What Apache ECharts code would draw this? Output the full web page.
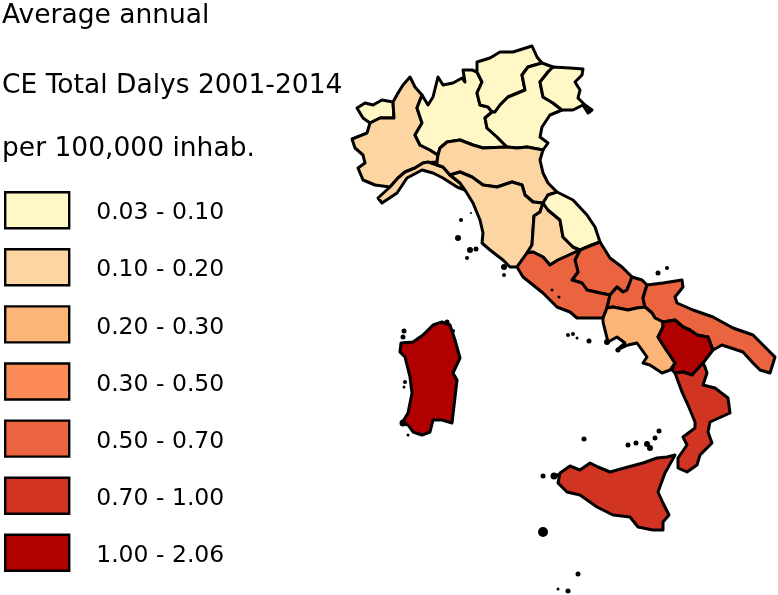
<!DOCTYPE html>
<html><head><meta charset="utf-8">
<style>html,body{margin:0;padding:0;background:#fff}#c{width:778px;height:595px}</style>
<script src="https://cdn.jsdelivr.net/npm/echarts@6/dist/echarts.min.js"></script>
</head><body><div id="c"></div>
<script>
const titleLines = ["Average annual", "CE Total Dalys 2001-2014", "per 100,000 inhab."];
const classLabels = ["0.03 - 0.10","0.10 - 0.20","0.20 - 0.30","0.30 - 0.50","0.50 - 0.70","0.70 - 1.00","1.00 - 2.06"];
const classBreaks = [0.03,0.10,0.20,0.30,0.50,0.70,1.00,2.06];
const classColors = ["#fff7c6","#fdd5a2","#fdb577","#fc8b59","#e9643f","#d13423","#b00000"];
const regionNames = ["Valle d'Aosta","Piemonte","Lombardia","Trentino-Alto Adige","Veneto","Friuli-Venezia Giulia","Liguria","Emilia-Romagna","Toscana","Umbria","Marche","Abruzzo","Lazio","Molise","Puglia","Campania","Basilicata","Calabria","Sicilia","Sardegna"];
const regionValues = [0.08,0.15,0.09,0.06,0.07,0.05,0.16,0.15,0.17,0.18,0.09,0.62,0.60,0.58,0.55,0.25,1.30,0.85,0.80,1.50];
// region outlines, in the map's own planar units
const outlines = [
"357,108 365,103 373,105 382,100 393,102 394,118 380,118 370,123 363,118",
"410,77 403,85 398,93 393,102 394,118 380,118 370,123 367,133 352,139 355,148 363,155 365,163 358,168 363,180 375,185 390,187 398,178 405,172 415,168 423,163 437,162 438,155 430,150 420,145 415,135 422,123 417,108 422,95 415,87",
"422,95 428,105 433,97 438,77 443,85 453,83 462,78 465,82 463,70 472,70 477,72 482,82 477,93 480,105 488,107 492,112 485,118 487,128 497,137 507,147 483,148 473,145 460,140 447,142 440,148 438,155 430,150 420,145 415,135 422,123 417,108",
"477,72 477,62 490,58 500,52 513,52 532,46 537,57 542,63 528,67 522,75 525,90 508,97 500,105 495,112 492,112 488,107 480,105 477,93 482,82",
"542,63 553,67 548,72 540,82 543,97 553,103 562,110 550,115 542,127 540,137 548,143 543,150 527,147 517,148 507,147 497,137 487,128 485,118 492,112 495,112 500,105 508,97 525,90 522,75 528,67",
"553,67 570,68 583,69 582,75 575,82 580,90 578,98 585,105 592,110 588,113 583,105 573,110 562,110 553,103 543,97 540,82 548,72",
"423,163 428,162 437,165 443,167 450,175 460,183 465,190 457,187 443,178 433,173 422,170 407,178 397,193 382,203 378,198 390,187 398,178 405,172 415,168",
"438,155 440,148 447,142 460,140 473,145 483,148 507,147 517,148 527,147 543,150 540,160 543,173 548,183 557,192 548,195 543,203 533,202 525,195 522,185 512,182 497,187 483,185 472,177 460,172 450,175 443,167 437,165 437,162",
"450,175 460,172 472,177 483,185 497,187 512,182 522,185 525,195 533,202 543,203 540,212 534,216 533,230 532,245 527,253 517,267 510,267 503,260 490,250 482,243 483,233 480,220 473,203 465,190 460,183",
"543,203 548,210 560,220 563,237 573,247 580,250 558,260 550,265 543,257 533,252 527,253 532,245 533,230 534,216 540,212",
"557,192 573,200 587,215 595,227 600,242 592,245 580,250 573,247 563,237 560,220 548,210 543,203 548,195",
"600,242 610,258 622,267 632,277 627,290 623,292 617,287 610,295 600,293 587,290 582,283 572,280 578,272 575,260 580,250 592,245",
"517,267 527,253 533,252 543,257 550,265 558,260 580,250 575,260 578,272 572,280 582,283 587,290 600,293 610,295 607,308 603,318 593,318 577,318 570,312 557,307 543,293 533,285 523,277",
"632,277 642,280 647,285 643,298 645,307 637,308 628,310 613,307 607,308 610,295 617,287 623,292 627,290",
"647,285 663,283 682,280 683,287 675,297 677,303 693,310 713,317 733,328 753,335 763,345 775,357 770,373 760,370 753,363 743,352 722,345 713,350 708,337 697,335 690,330 683,327 675,320 663,322 655,318 652,313 645,307 643,298",
"607,308 613,307 628,310 637,308 645,307 652,313 655,318 663,322 663,327 658,337 663,345 675,363 670,370 662,373 650,365 643,363 647,357 637,343 628,345 617,350 625,343 617,337 608,342 603,322 603,318",
"663,322 675,320 683,327 690,330 697,335 708,337 713,350 703,363 692,375 683,372 675,373 672,370 675,363 663,345 658,337 663,327",
"675,373 683,372 692,375 703,363 705,367 707,373 703,385 715,388 728,398 730,413 710,422 708,432 712,443 700,455 697,465 687,472 678,468 678,458 687,445 683,437 695,428 695,422 688,405 682,392",
"675,455 667,457 657,458 643,463 628,467 610,472 598,467 590,463 580,470 570,466 560,473 558,483 567,492 580,495 597,507 613,515 630,517 638,527 653,530 663,530 663,522 669,515 663,503 658,492 665,473",
"442,322 450,325 455,340 460,358 453,373 457,380 452,423 442,420 433,420 430,432 422,435 413,432 408,425 402,423 408,413 412,393 410,377 405,357 400,352 401,343 413,342 423,335 433,325"
];
// small islands and lakes: x, y, dot size
const islands = [[543,532,10],[543,476,5],[554,476,7],[558,475,4],[584,439,5],[628,445,5],[636,443,5],[647,444,6],[650,448,6],[655,438,5],[659,431,5],[578,574,5],[558,589,3],[568,591,5],[405,382,4],[404,387,3],[408,435,3],[403,423,7],[404,331,5],[403,337,5],[568,335,4],[573,334,4],[577,338,3],[589,341,5],[607,342,6],[618,350,5],[461,220,4],[458,238,6],[470,250,6],[476,249,5],[467,258,4],[471,213,2],[504,267,6],[504,275,4],[552,290,3],[559,297,3],[658,273,5],[667,268,4],[589,111,5],[447,322,5],[453,331,4]];

const features = regionNames.map((name,i)=>{
  const ring = outlines[i].split(" ").map(p=>p.split(",").map(Number));
  ring.push(ring[0]);
  return {type:"Feature",properties:{name},geometry:{type:"Polygon",coordinates:[ring]}};
});
echarts.registerMap("italy",{type:"FeatureCollection",features});

const font = "'DejaVu Sans',sans-serif";
const titleTops = [3,73,136];
const chart = echarts.init(document.getElementById("c"),null,{renderer:"canvas"});
chart.setOption({
  animation:false,
  backgroundColor:"#fff",
  title:titleLines.map((t,i)=>({text:t,left:2,top:titleTops[i],padding:0,textStyle:{fontFamily:font,fontSize:26.5,fontWeight:"normal",color:"#000"}})),
  legend:{
    orient:"vertical",left:4,top:191,padding:0,itemWidth:64,itemHeight:36,itemGap:18.7,icon:"rect",selectedMode:false,
    data:classLabels,
    formatter:"{t|{name}}",
    itemStyle:{borderColor:"#000",borderWidth:2.4,opacity:1},
    textStyle:{rich:{t:{fontFamily:font,fontSize:23.5,color:"#000",padding:[6,0,0,22]}}}
  },
  visualMap:{show:false,seriesIndex:0,type:"piecewise",
    pieces:classColors.map((c,i)=>({gte:classBreaks[i],lt:classBreaks[i+1],color:c}))},
  geo:{map:"italy",silent:true,roam:false,
    projection:{project:p=>[p[0],p[1]],unproject:p=>[p[0],p[1]]},
    left:352,top:46,width:423,height:484,
    itemStyle:{areaColor:"#fff",borderColor:"#000",borderWidth:3,borderJoin:"round",borderCap:"round"},
    label:{show:false},emphasis:{disabled:true}},
  series:[
    {type:"map",geoIndex:0,silent:true,data:regionNames.map((n,i)=>({name:n,value:regionValues[i]}))},
    {type:"scatter",coordinateSystem:"geo",silent:true,symbol:"circle",z:5,
      data:islands.map(d=>[d[0],d[1],d[2]]),symbolSize:v=>v[2],itemStyle:{color:"#000",opacity:1}},
    ...classLabels.map((l,i)=>({type:"scatter",name:l,coordinateSystem:"geo",data:[],itemStyle:{color:classColors[i],opacity:1}}))
  ]
});
</script></body></html>
